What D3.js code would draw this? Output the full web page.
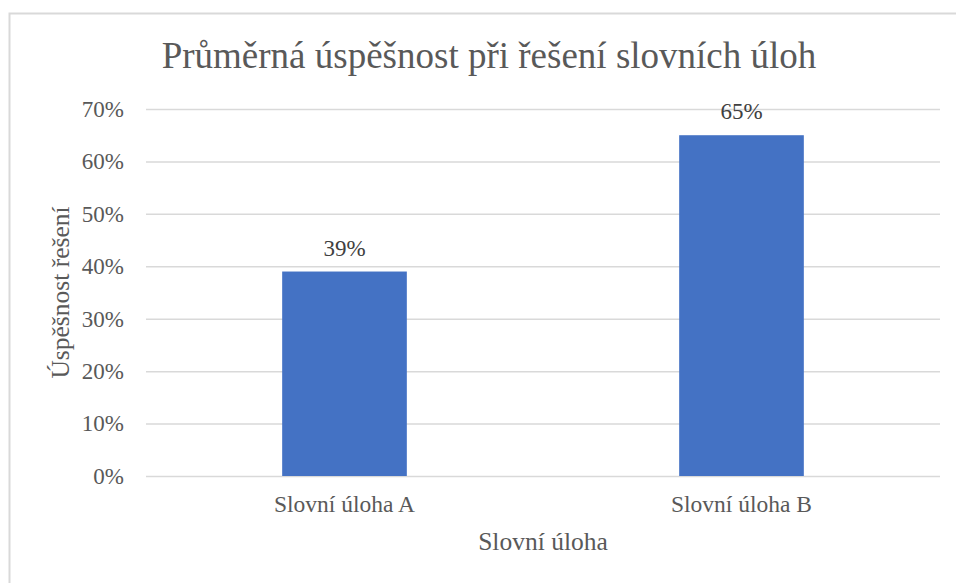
<!DOCTYPE html>
<html>
<head>
<meta charset="utf-8">
<script src="https://cdn.jsdelivr.net/npm/d3@7"></script>
<style>
  body { margin: 0; background: #fff; }
</style>
</head>
<body>
<script>
var categories = ['Slovní úloha A', 'Slovní úloha B'];
var values = [0.39, 0.65];
var yTicks = [0, 0.1, 0.2, 0.3, 0.4, 0.5, 0.6, 0.7];
var title = 'Průměrná úspěšnost při řešení slovních úloh';
var xTitle = 'Slovní úloha';
var yTitle = 'Úspěšnost řešení';

var FONT = '"Liberation Serif", "Times New Roman", serif';
var w = 956;
var h = 583;
var margin = {
  top: 109,
  bottom: 107,
  left: 146,
  right: 16
};
var width = w - margin.left - margin.right;
var height = h - margin.top - margin.bottom;

var svg = d3.select('body').append('svg')
            .attr('width', w)
            .attr('height', h)

// chart area border (only top/left visible in frame)
svg.append('rect')
    .attr('x', 9.5)
    .attr('y', 13.5)
    .attr('width', 980)
    .attr('height', 600)
    .attr('fill', 'none')
    .attr('stroke', '#d9d9d9')
    .attr('stroke-width', 2)

var chart = svg.append('g')
              .attr('transform', 'translate(' + margin.left + ',' + margin.top + ')')

var x = d3.scaleBand()
          .domain(categories)
          .range([0, width])
          .paddingInner(0.686)
          .paddingOuter(0.343)
var y = d3.scaleLinear()
          .domain([0, 0.7])
          .range([height, 0])

var yAxis = d3.axisLeft(y)
              .tickValues(yTicks)
              .tickFormat(d3.format('.0%'))
              .tickSize(-width)
              .tickPadding(22)

var yg = chart.append('g')
    .classed('y axis', true)
    .call(yAxis)
yg.select('.domain').remove()
yg.selectAll('line')
    .attr('stroke', '#d9d9d9')
    .attr('stroke-width', 1.5)
yg.selectAll('text')
    .style('font-family', FONT)
    .style('font-size', '23px')
    .style('fill', '#595959')

var xAxis = d3.axisBottom(x)
              .tickSize(0)
              .tickPadding(19)
var xg = chart.append('g')
    .classed('x axis', true)
    .attr('transform', 'translate(0,' + height + ')')
    .call(xAxis)
xg.select('.domain').remove()
xg.selectAll('text')
    .style('font-family', FONT)
    .style('font-size', '23.5px')
    .style('fill', '#595959')

chart.selectAll('.bar')
    .data(values)
    .enter()
      .append('rect')
      .classed('bar', true)
      .attr('x', function(d, i){ return x(categories[i]) })
      .attr('y', function(d){ return y(d) })
      .attr('width', x.bandwidth())
      .attr('height', function(d){ return height - y(d) })
      .attr('fill', '#4472c4')

chart.selectAll('.label')
    .data(values)
    .enter()
      .append('text')
      .classed('label', true)
      .attr('x', function(d, i){ return x(categories[i]) + x.bandwidth() / 2 })
      .attr('y', function(d){ return y(d) - 16 })
      .attr('text-anchor', 'middle')
      .style('font-family', FONT)
      .style('font-size', '23px')
      .style('fill', '#404040')
      .text(function(d){ return d3.format('.0%')(d) })

svg.append('text')//Title
    .attr('x', 489)
    .attr('y', 68)
    .attr('text-anchor', 'middle')
    .style('font-family', FONT)
    .style('font-size', '37px')
    .style('fill', '#595959')
    .text(title)

svg.append('text')//x title
    .attr('x', margin.left + width / 2)
    .attr('y', 550)
    .attr('text-anchor', 'middle')
    .style('font-family', FONT)
    .style('font-size', '25.5px')
    .style('fill', '#595959')
    .text(xTitle)

svg.append('text')//y title
    .attr('transform', 'translate(69,' + (margin.top + height / 2) + ') rotate(-90)')
    .attr('text-anchor', 'middle')
    .style('font-family', FONT)
    .style('font-size', '25.5px')
    .style('fill', '#595959')
    .text(yTitle)
</script>
</body>
</html>
